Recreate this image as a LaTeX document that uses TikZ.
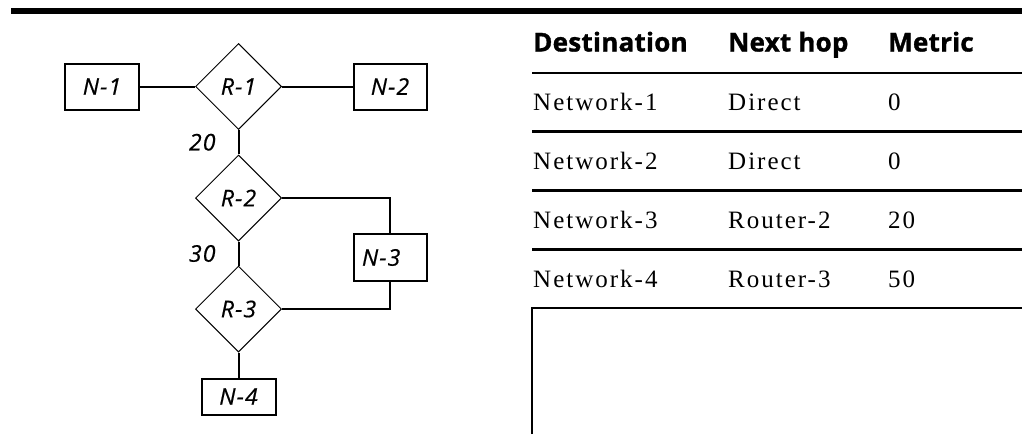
\documentclass[tikz,border=0pt]{standalone}
\usepackage{fontspec}
\usetikzlibrary{shapes.geometric}
\newfontfamily\netfont[LetterSpace=5, FakeBold=0.6]{Open Sans}
\newfontfamily\headfont[LetterSpace=1, FakeBold=1.2]{Open Sans}
\newfontfamily\rowfont[LetterSpace=8]{Liberation Serif}
\tikzset{
	netbox/.style={draw, line width=2pt, inner sep=0pt, font=\netfont\itshape\fontsize{23}{27}\selectfont},
	router/.style={draw, diamond, aspect=1, line width=1pt, minimum size=86pt, inner sep=0pt, font=\netfont\itshape\fontsize{23}{27}\selectfont},
	link/.style={line width=2pt},
	cost/.style={left=22pt, inner sep=0pt, font=\netfont\itshape\fontsize{23}{27}\selectfont},
	hcell/.style={anchor=base west, inner sep=0pt, font=\headfont\bfseries\fontsize{26}{30}\selectfont},
	cell/.style={anchor=base west, inner sep=0pt, font=\rowfont\fontsize{25}{30}\selectfont},
	rule/.style={line width=2.3pt}
}
\begin{document}
\begin{tikzpicture}[x=1pt,y=-1pt]
		\useasboundingbox (0,0) rectangle (1022,434);
		\fill[black] (11,8) rectangle (1022,14);
		
		\node[netbox, minimum width=74pt, minimum height=46pt] (N1) at (102,86.5) {N-1};
		\node[router] (R1) at (238.5,86.5) {R-1};
		\node[netbox, minimum width=73pt, minimum height=46pt] (N2) at (390,86.5) {N-2};
		\node[router] (R2) at (238.5,198) {R-2};
		\node[router] (R3) at (238.5,309) {R-3};
		\node[netbox, minimum width=73pt, minimum height=47pt, text width=56pt, align=left] (N3) at (390,257.5) {N-3};
		\node[netbox, minimum width=74pt, minimum height=36pt] (N4) at (238.5,396.5) {N-4};
		
		\draw[link] (N1) -- (R1);
		\draw[link] (R1) -- (N2);
		\draw[link] (R1) -- node[cost] (c20) {20} (R2);
		\draw[link] (R2) -- node[cost] (c30) {30} (R3);
		\draw[link] (R3) -- (N4);
		\draw[link] (R2.east) -| (N3.north);
		\draw[link] (R3.east) -| (N3.south);
		
		%Table
		\node[hcell] (hdest) at (533,51.5) {Destination};
		\node[hcell] (hhop) at (728,51.5) {Next hop};
		\node[hcell] (hmetric) at (888,51.5) {Metric};
		
		\draw[rule]
		(532,73) -- (1022,73)
		(532,131.5) -- (1022,131.5)
		(532,190.5) -- (1022,190.5)
		(532,249.5) -- (1022,249.5);
		
		\node[cell] (dest1) at (533,110.5) {Network-1};
		\node[cell] (hop1) at (728,110.5) {Direct};
		\node[cell] (metric1) at (888,110.5) {0};
		\node[cell] (dest2) at (533,169) {Network-2};
		\node[cell] (hop2) at (728,169) {Direct};
		\node[cell] (metric2) at (888,169) {0};
		\node[cell] (dest3) at (533,228) {Network-3};
		\node[cell] (hop3) at (728,228) {Router-2};
		\node[cell] (metric3) at (888,228) {20};
		\node[cell] (dest4) at (533,287) {Network-4};
		\node[cell] (hop4) at (728,287) {Router-3};
		\node[cell] (metric4) at (888,287) {50};
		
		\draw[rule, line join=miter] (532,434) -- (532,308) -- (1022,308);
		
	\end{tikzpicture}
\end{document}
